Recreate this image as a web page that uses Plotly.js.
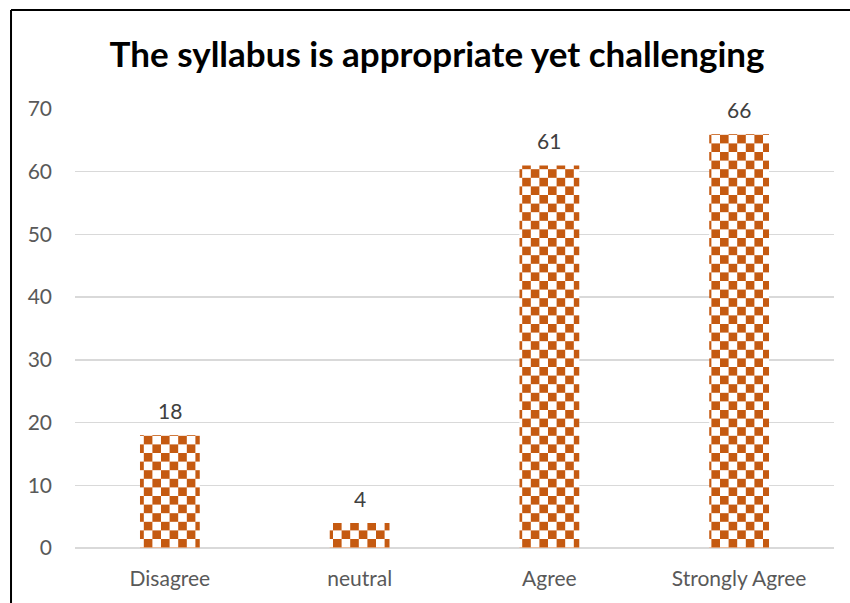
<!DOCTYPE html>
<html>
<head>
<meta charset="utf-8">
<script src="https://cdn.plot.ly/plotly-3.0.1.min.js"></script>
<style>
  body { margin: 0; background: #fff; }
  #chart { width: 850px; height: 603px; }
</style>
</head>
<body>
<div id="chart"></div>
<script>
// chart data
const categories = ['Disagree', 'neutral', 'Agree', 'Strongly Agree'];
const responses = [18, 4, 61, 66];
const yTicks = [0, 10, 20, 30, 40, 50, 60, 70];

const barColor = '#C55A11';
const cell = 8.6; // checker square size in px
const font = 'Lato, "Open Sans", sans-serif';

const trace = {
  x: categories,
  y: responses,
  type: 'bar',
  marker: {
    color: barColor,
    line: { width: 0 },
    pattern: { shape: '.', fgcolor: barColor, bgcolor: '#ffffff', size: cell * 2, solidity: 0.5, fillmode: 'replace' }
  },
  hoverinfo: 'x+y'
};

// value labels above each bar
const valueLabels = categories.map(function(c, i) {
  return {
    x: c, y: responses[i], xref: 'x', yref: 'y',
    text: String(responses[i]),
    showarrow: false,
    yanchor: 'bottom',
    yshift: 10,
    font: { family: font, size: 21, color: '#404040' }
  };
});

const layout = {
  width: 850,
  height: 603,
  margin: { l: 75, r: 16, t: 109, b: 55 },
  paper_bgcolor: '#ffffff',
  plot_bgcolor: '#ffffff',
  showlegend: false,
  bargap: 0.685,
  title: {
    text: '<b>The syllabus is appropriate yet challenging</b>',
    font: { family: font, size: 35, color: '#000000' },
    x: 0.477, xanchor: 'center', xref: 'paper',
    y: 0.91, yanchor: 'middle'
  },
  xaxis: {
    type: 'category',
    showgrid: false,
    zeroline: false,
    showline: false,
    ticks: '',
    tickfont: { family: font, size: 21, color: '#595959' },
    ticklabelstandoff: 16
  },
  yaxis: {
    range: [0, 70],
    tickvals: yTicks,
    showgrid: true,
    gridcolor: '#d9d9d9',
    gridwidth: 1.5,
    zeroline: true,
    zerolinecolor: '#d9d9d9',
    zerolinewidth: 1.5,
    showline: false,
    ticks: '',
    tickfont: { family: font, size: 21, color: '#595959' },
    ticklabelstandoff: 22
  },
  annotations: valueLabels,
  shapes: [
    // chart frame: left and top edges only
    { type: 'line', xref: 'paper', yref: 'paper', x0: -0.0843, x1: -0.0843, y0: 1.2255, y1: -0.2, line: { color: '#000', width: 2 } },
    { type: 'line', xref: 'paper', yref: 'paper', x0: -0.0843, x1: 1.03, y0: 1.2255, y1: 1.2255, line: { color: '#000', width: 2 } }
  ]
};

// turn plotly's dot pattern into a checkerboard
function makeChecker() {
  const gd = document.getElementById('chart');
  gd.querySelectorAll('pattern').forEach(function(p) {
    const s = cell * 2;
    p.setAttribute('width', s + 'px');
    p.setAttribute('height', s + 'px');
    while (p.firstChild) p.removeChild(p.firstChild);
    const ns = 'http://www.w3.org/2000/svg';
    const bg = document.createElementNS(ns, 'rect');
    bg.setAttribute('width', s); bg.setAttribute('height', s);
    bg.setAttribute('fill', '#ffffff');
    p.appendChild(bg);
    [[0, 0], [cell, cell]].forEach(function(o) {
      const r = document.createElementNS(ns, 'rect');
      r.setAttribute('x', o[0]); r.setAttribute('y', o[1]);
      r.setAttribute('width', cell); r.setAttribute('height', cell);
      r.setAttribute('fill', barColor);
      p.appendChild(r);
    });
  });
}

Plotly.newPlot('chart', [trace], layout, { displayModeBar: false, staticPlot: true }).then(makeChecker);
</script>
</body>
</html>
